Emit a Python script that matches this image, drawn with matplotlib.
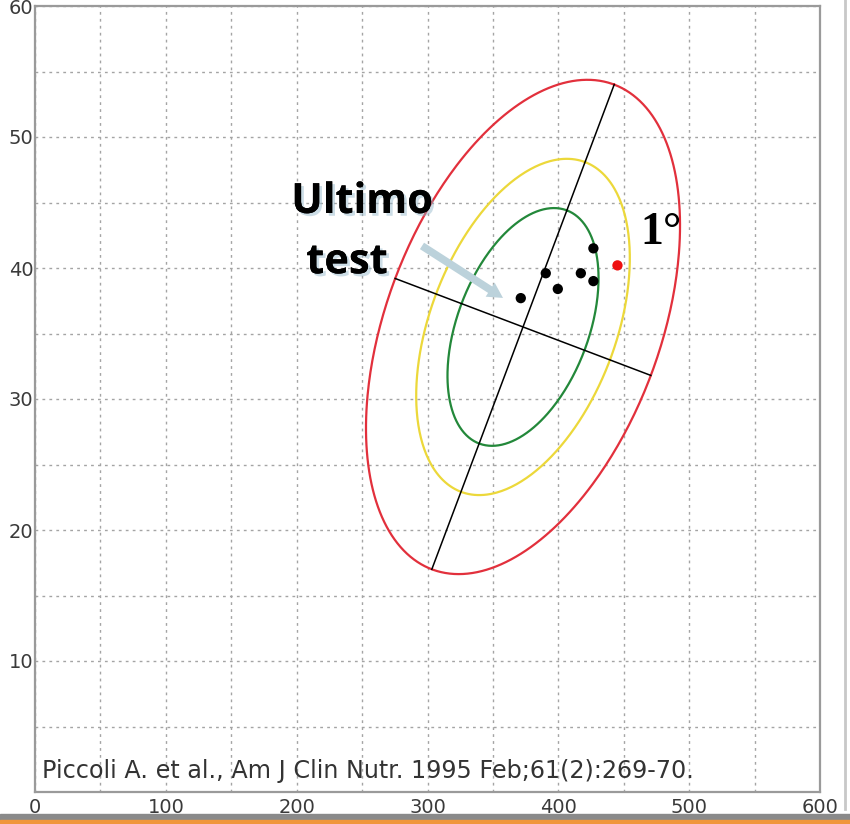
import numpy as np
import matplotlib
matplotlib.use('Agg')
import matplotlib.pyplot as plt
import matplotlib.patheffects as pe
from matplotlib.patches import Rectangle
from matplotlib.lines import Line2D

plt.rcParams['font.family'] = ['DejaVu Sans']

# assi e tacche
x_ticks = [0, 100, 200, 300, 400, 500, 600]
y_ticks = [10, 20, 30, 40, 50, 60]

# ellissi di tolleranza (centro e estremi dei semiassi)
center = (373.0, 35.5)
major_end = (442.7, 54.0)
minor_end = (470.7, 31.8)
probs = [0.50, 0.75, 0.95]
ell_colors = ['#23883a', '#ecd83a', '#e2303c']

# punti dei test
test_x = [371.3, 390.4, 399.6, 417.2, 426.8, 426.8]
test_y = [37.7, 39.6, 38.4, 39.6, 41.5, 39.0]
first_x = [445.2]
first_y = [40.2]

citation = 'Piccoli A. et al., Am J Clin Nutr. 1995 Feb;61(2):269-70.'

fig = plt.figure(figsize=(8.5, 8.24), dpi=100)
ax = fig.add_axes([35 / 850, 32 / 824, 785 / 850, 786 / 824])
ax.set_xlim(0, 600)
ax.set_ylim(0, 60)

# griglia tratteggiata ogni 50 / 5
ax.set_xticks(np.arange(0, 601, 50), minor=True)
ax.set_yticks(np.arange(0, 61, 5), minor=True)
ax.set_xticks(x_ticks)
ax.set_yticks(y_ticks)
ax.grid(True, which='both', color='#a4a4a4', linestyle=(0, (2, 3)), linewidth=1.0)
ax.tick_params(which='both', length=0, labelsize=14, labelcolor='#3a3a3a')
ax.tick_params(axis='y', pad=1)
ax.tick_params(axis='x', pad=4)
for s in ax.spines.values():
    s.set_color('#9a9a9a')
    s.set_linewidth(1.6)

# ellissi
cx, cy = center
u = np.array([major_end[0] - cx, major_end[1] - cy])
v = np.array([minor_end[0] - cx, minor_end[1] - cy])
k95 = np.sqrt(-2 * np.log(1 - probs[-1]))
t = np.linspace(0, 2 * np.pi, 400)
for p, col in zip(probs, ell_colors):
    k = np.sqrt(-2 * np.log(1 - p)) / k95
    ex = cx + k * (np.cos(t) * u[0] + np.sin(t) * v[0])
    ey = cy + k * (np.cos(t) * u[1] + np.sin(t) * v[1])
    ax.plot(ex, ey, color=col, lw=1.6, zorder=3)

# assi principali
ax.plot([cx - u[0], cx + u[0]], [cy - u[1], cy + u[1]], color='black', lw=1.1, zorder=4)
ax.plot([cx - v[0], cx + v[0]], [cy - v[1], cy + v[1]], color='black', lw=1.1, zorder=4)

ax.scatter(test_x, test_y, s=55, color='black', zorder=5, edgecolors='none')
ax.scatter(first_x, first_y, s=55, color='#ee1111', zorder=5, edgecolors='none')

# freccia "Ultimo test"
ax.annotate('', xy=(359.5, 37.6), xytext=(294.0, 41.8),
            arrowprops=dict(arrowstyle='simple,head_length=1.1,head_width=1.2,tail_width=0.55',
                            color='#bcd2db', lw=0), zorder=4)

shadow = [pe.withSimplePatchShadow(offset=(2, -2), shadow_rgbFace='#8fb4c8', alpha=0.45), pe.Normal()]
ax.text(250, 45.0, 'Ultimo', family=['Open Sans', 'DejaVu Sans'], weight='bold', fontsize=30,
        ha='center', va='center', color='black', path_effects=shadow, zorder=6)
ax.text(238.5, 40.4, 'test', family=['Open Sans', 'DejaVu Sans'], weight='bold', fontsize=30,
        ha='center', va='center', color='black', path_effects=shadow, zorder=6)

ax.text(478.5, 42.7, '1°', family=['Liberation Serif', 'DejaVu Serif'], weight='bold', fontsize=33,
        ha='center', va='center', color='black', zorder=6)

ax.text(5, 1.6, citation, fontsize=17.2, color='#333333', ha='left', va='center', zorder=6)

# cornice della finestra
fig.add_artist(Line2D([845 / 850, 845 / 850], [15 / 824, 1], color='#c8c8c8', lw=2))
fig.add_artist(Rectangle((0, 4 / 824), 1, 6 / 824, transform=fig.transFigure, color='#8a8a8a'))
fig.add_artist(Rectangle((0, 0), 1, 4 / 824, transform=fig.transFigure, color='#f0963c'))

plt.savefig('out.png', dpi=100)
